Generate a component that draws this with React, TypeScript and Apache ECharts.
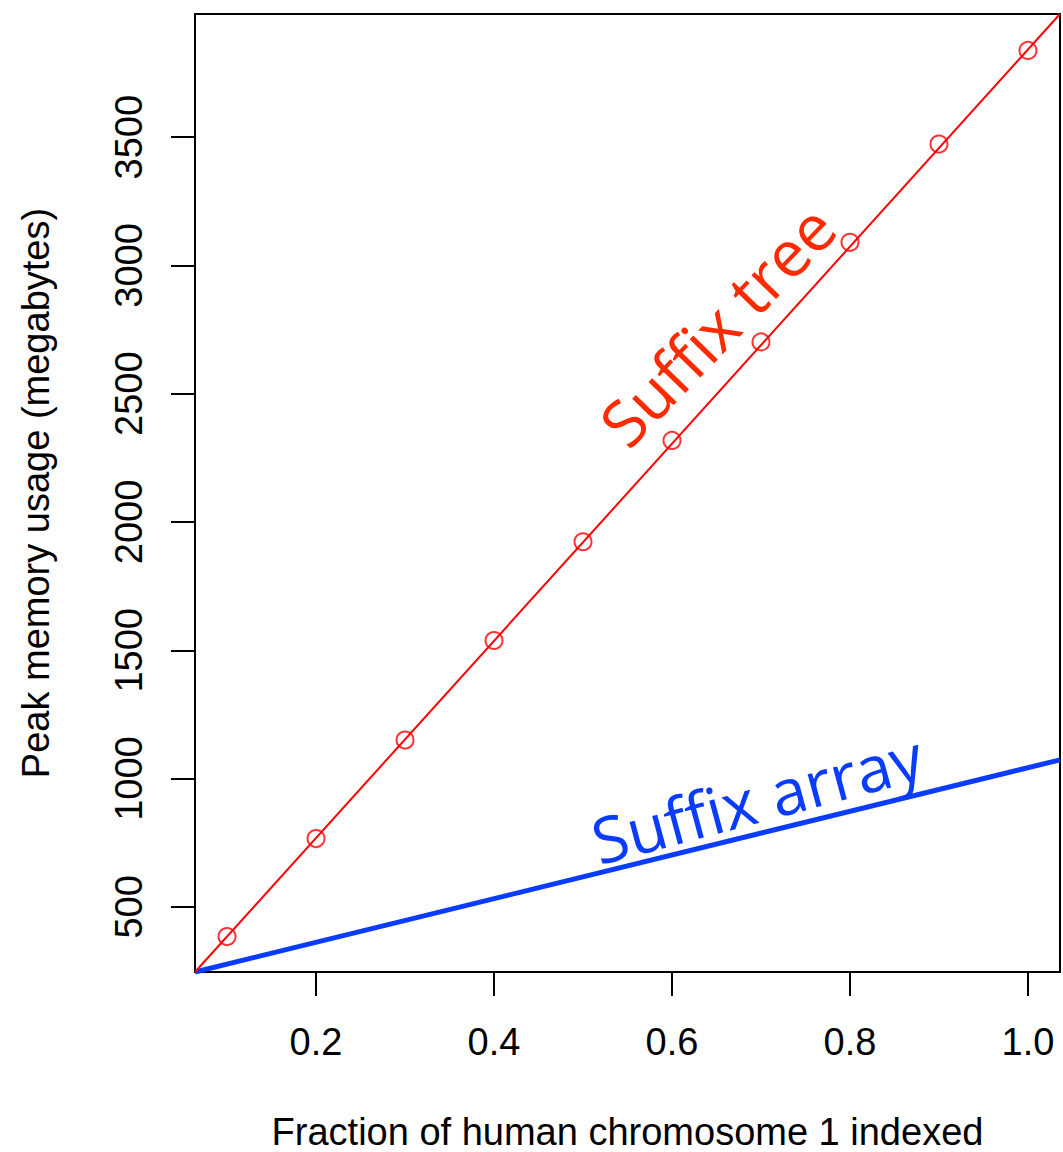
import React, { useEffect, useRef } from "react";
import * as echarts from "echarts";

// ---- data ----
const xRange = [0.064, 1.036];
const yRange = [246, 3980];
const xTicks = [0.2, 0.4, 0.6, 0.8, 1.0];
const xTickLabels = ["0.2", "0.4", "0.6", "0.8", "1.0"];
const yTicks = [500, 1000, 1500, 2000, 2500, 3000, 3500];
const yTickLabels = ["500", "1000", "1500", "2000", "2500", "3000", "3500"];

const fractions = [0.1, 0.2, 0.3, 0.4, 0.5, 0.6, 0.7, 0.8, 0.9, 1.0];
const suffixTreeMB = [384, 766, 1150, 1538, 1923, 2318, 2702, 3090, 3473, 3838];

// fitted lines spanning the plot
const lineX = [0.064, 1.036];
const suffixTreeLineY = [246, 3980];
const suffixArrayLineY = [246, 1073];

const xTitle = "Fraction of human chromosome 1 indexed";
const yTitle = "Peak memory usage (megabytes)";

const FONT = "'Liberation Sans', Arial, Helvetica, sans-serif";
const LABEL_FONT = "'Open Sans', 'Noto Sans', sans-serif";

function labelFor(ticks: number[], labels: string[]) {
  return (v: number) => {
    const i = ticks.findIndex((t) => Math.abs(t - v) < 1e-9);
    return i >= 0 ? labels[i] : "";
  };
}

export default function App() {
  const ref = useRef<HTMLDivElement>(null);
  useEffect(() => {
    if (!ref.current) return;
    const chart = echarts.init(ref.current, undefined, { renderer: "svg" });
    const black = "#000000";
    chart.setOption({
      animation: false,
      backgroundColor: "#ffffff",
      grid: {
        left: 195,
        top: 14,
        width: 865,
        height: 958,
        containLabel: false,
        outerBoundsMode: "none",
        show: true,
        borderColor: black,
        borderWidth: 2,
        backgroundColor: "transparent",
      },
      xAxis: {
        type: "value",
        min: xRange[0],
        max: xRange[1],
        axisLine: { show: true, lineStyle: { color: black, width: 2 } },
        axisTick: {
          show: true,
          customValues: xTicks,
          length: 24,
          lineStyle: { color: black, width: 2 },
        },
        axisLabel: {
          customValues: xTicks,
          formatter: labelFor(xTicks, xTickLabels),
          fontSize: 38,
          lineHeight: 38,
          color: black,
          fontFamily: FONT,
          margin: 51,
        },
        splitLine: { show: false },
        name: xTitle,
        nameLocation: "middle",
        nameGap: 141,
        nameTextStyle: { fontSize: 38, color: black, fontFamily: FONT, lineHeight: 38 },
      },
      yAxis: {
        type: "value",
        min: yRange[0],
        max: yRange[1],
        axisLine: { show: true, lineStyle: { color: black, width: 2 } },
        axisTick: {
          show: true,
          customValues: yTicks,
          length: 24,
          lineStyle: { color: black, width: 2 },
        },
        axisLabel: {
          customValues: yTicks,
          formatter: labelFor(yTicks, yTickLabels),
          rotate: 90,
          fontSize: 38,
          lineHeight: 38,
          color: black,
          fontFamily: FONT,
          margin: 47,
        },
        splitLine: { show: false },
        name: yTitle,
        nameLocation: "middle",
        nameRotate: 90,
        nameGap: 140,
        nameTextStyle: { fontSize: 38, color: black, fontFamily: FONT, lineHeight: 38 },
      },
      series: [
        {
          type: "line",
          name: "Suffix array",
          data: lineX.map((x, i) => [x, suffixArrayLineY[i]]),
          showSymbol: false,
          symbol: "none",
          lineStyle: { color: "#0a3cff", width: 5 },
          clip: true,
        },
        {
          type: "line",
          name: "Suffix tree fit",
          data: lineX.map((x, i) => [x, suffixTreeLineY[i]]),
          showSymbol: false,
          symbol: "none",
          lineStyle: { color: "#ff0000", width: 2 },
          clip: true,
        },
        {
          type: "scatter",
          name: "Suffix tree",
          data: fractions.map((x, i) => [x, suffixTreeMB[i]]),
          symbol: "circle",
          symbolSize: 17,
          itemStyle: { color: "transparent", borderColor: "#ff0000", borderWidth: 2 },
        },
      ],
      graphic: [
        {
          type: "text",
          x: 717,
          y: 325,
          rotation: (46 * Math.PI) / 180,
          style: {
            text: "Suffix tree",
            fill: "#ff2a00",
            fontSize: 64,
            fontFamily: LABEL_FONT,
            align: "center",
            verticalAlign: "middle",
          },
        },
        {
          type: "text",
          x: 757,
          y: 798,
          rotation: (15 * Math.PI) / 180,
          style: {
            text: "Suffix array",
            fill: "#0a3cff",
            fontSize: 64,
            fontFamily: LABEL_FONT,
            align: "center",
            verticalAlign: "middle",
          },
        },
      ],
    });
    return () => chart.dispose();
  }, []);
  return (
    <div
      ref={ref}
      style={{ position: "fixed", left: 0, top: 0, width: 1063, height: 1152 }}
    />
  );
}
